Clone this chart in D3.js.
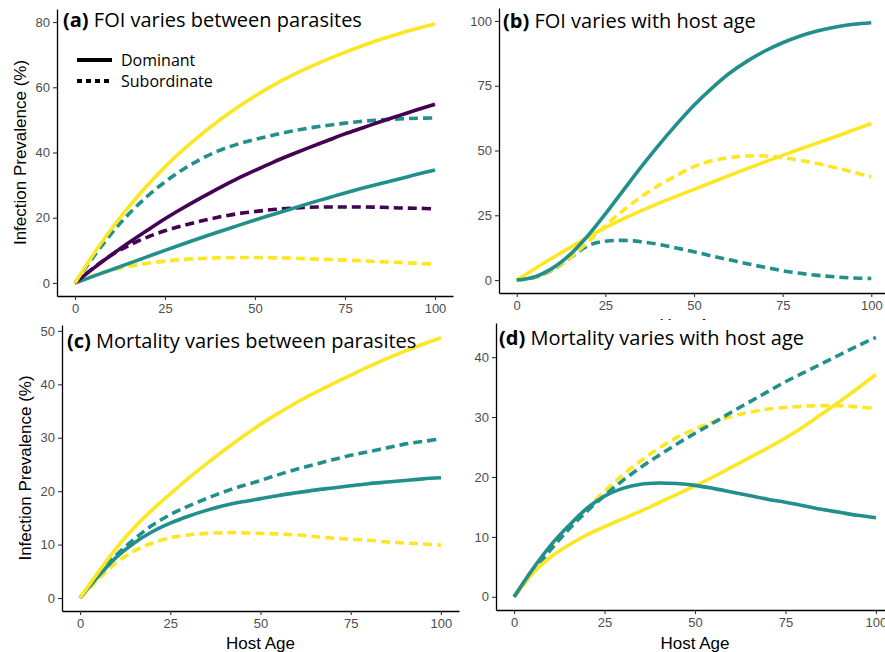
<!DOCTYPE html>
<html>
<head>
<meta charset="utf-8">
<script src="https://cdn.jsdelivr.net/npm/d3@7"></script>
<style>
  body { margin: 0; background: #fff; }
  svg { display: block; }
</style>
</head>
<body>
<svg id="chart" width="885" height="652"></svg>
<script>
var ages = [0,5,10,15,20,25,30,35,40,45,50,55,60,65,70,75,80,85,90,95,100];
var xTicks = [0,25,50,75,100];

// (a) FOI varies between parasites
var aYellowDom = [0,8.6,16.4,23.4,29.8,35.6,40.8,45.5,49.8,53.7,57.3,60.6,63.5,66.1,68.5,70.7,72.8,74.7,76.4,78,79.4];
var aYellowSub = [0,2.2,3.9,5.1,6,6.7,7.2,7.5,7.7,7.8,7.8,7.7,7.6,7.4,7.2,7,6.8,6.5,6.3,6,5.8];
var aPurpleDom = [0,4.4,8.5,12.4,16.1,19.7,23,26.1,29.1,31.9,34.5,37,39.3,41.5,43.6,45.7,47.6,49.5,51.3,53.1,54.8];
var aPurpleSub = [0,4.5,8.5,11.5,14,16,17.6,19,20.2,21.2,21.9,22.5,22.9,23.2,23.3,23.3,23.3,23.2,23,22.9,22.7];
var aTealDom = [0,2,4,6,8,10,11.95,13.85,15.7,17.5,19.3,21,22.7,24.4,26,27.6,29.1,30.5,31.9,33.3,34.6];
var aTealSub = [0,7.8,15,21.2,26.5,31,34.8,38,40.6,42.5,44,45.3,46.5,47.5,48.3,49,49.6,50,50.3,50.5,50.6];
var aYTicks = [0,20,40,60,80];

// (b) FOI varies with host age
var bTealDom = [0,1.2,4.5,9.8,17,25.5,34.5,43.5,52,60,67.5,74,79.8,84.5,88.4,91.6,94.2,96.2,97.7,98.7,99.3];
var bTealSub = [0,1,3.8,8.5,13.2,15,15.3,14.8,13.8,12.4,10.9,9.3,7.8,6.3,4.9,3.6,2.6,1.8,1.2,0.8,0.6];
var bYellowDom = [0,4.3,8.5,12.5,16.5,20.2,23.6,26.7,29.6,32.3,35,37.7,40.4,43,45.6,48.1,50.6,53,55.4,57.9,60.4];
var bYellowSub = [0,1,4,8.5,14.5,21,26.8,32,36.5,40.3,43.8,46,47.3,47.9,47.9,47.2,46.2,44.9,43.3,41.6,39.8];
var bYTicks = [0,25,50,75,100];

// (c) Mortality varies between parasites
var cYellowDom = [0,4.8,9.3,13.2,16.5,19.5,22.4,25.1,27.7,30.2,32.5,34.6,36.6,38.4,40.1,41.7,43.3,44.8,46.2,47.5,48.7];
var cYellowSub = [0,3.5,6.6,8.8,10.3,11.3,11.8,12.1,12.2,12.2,12.1,12,11.8,11.5,11.2,11,10.8,10.5,10.3,10.1,9.9];
var cTealDom = [0,4,7.6,10.3,12.4,14,15.3,16.4,17.3,18,18.6,19.2,19.7,20.2,20.6,21,21.4,21.7,22,22.3,22.5];
var cTealSub = [0,4.2,8,11,13.6,15.6,17.2,18.6,19.9,21,22,23.1,24.1,25,25.9,26.7,27.4,28.1,28.8,29.3,29.8];
var cYTicks = [0,10,20,30,40,50];

// (d) Mortality varies with host age
var dTealDom = [0,4.5,8.5,11.8,14.7,16.8,18.1,18.8,19,18.9,18.6,18.1,17.5,16.9,16.3,15.8,15.2,14.6,14.1,13.6,13.2];
var dTealSub = [0,4,7.8,11.2,14.2,16.9,19.4,21.6,23.6,25.5,27.3,29,30.8,32.5,34.2,35.9,37.4,38.9,40.4,41.9,43.3];
var dYellowDom = [0,3.8,6.6,8.6,10.3,11.7,13,14.3,15.7,17.1,18.5,20,21.6,23.2,24.8,26.5,28.4,30.5,32.6,34.8,37.1];
var dYellowSub = [0,4,7.8,11.3,14.6,17.6,20.3,22.7,24.8,26.6,28,29.2,30.1,30.8,31.3,31.6,31.8,31.9,31.9,31.7,31.4];
var dYTicks = [0,10,20,30,40];

var YELLOW = "#FDE725", TEAL = "#21908C", PURPLE = "#440154";

var panels = [
  { tag: "(a)", title: "FOI varies between parasites", x0: 57, x1: 453, y0: 296, y1: 9,
    yDom: [-4, 84], yTicks: aYTicks, titleX: 63, titleY: 27, yLabel: true, yLabX: 20, xLabel: false,
    series: [
      { v: aTealSub, c: TEAL, dash: true }, { v: aPurpleSub, c: PURPLE, dash: true }, { v: aYellowSub, c: YELLOW, dash: true },
      { v: aTealDom, c: TEAL }, { v: aPurpleDom, c: PURPLE }, { v: aYellowDom, c: YELLOW }
    ] },
  { tag: "(b)", title: "FOI varies with host age", x0: 499, x1: 889, y0: 293, y1: 8,
    yDom: [-5, 105], yTicks: bYTicks, titleX: 503, titleY: 28, yLabel: false, xLabel: true, xLabY: 331,
    clipLab: true,
    series: [
      { v: bTealSub, c: TEAL, dash: true }, { v: bYellowSub, c: YELLOW, dash: true },
      { v: bYellowDom, c: YELLOW }, { v: bTealDom, c: TEAL }
    ] },
  { tag: "(c)", title: "Mortality varies between parasites", x0: 62, x1: 459, y0: 611, y1: 325,
    yDom: [-2.43, 51.1], yTicks: cYTicks, titleX: 67, titleY: 348, yLabel: true, yLabX: 25, xLabel: true, xLabY: 649,
    series: [
      { v: cTealSub, c: TEAL, dash: true }, { v: cYellowSub, c: YELLOW, dash: true },
      { v: cTealDom, c: TEAL }, { v: cYellowDom, c: YELLOW }
    ] },
  { tag: "(d)", title: "Mortality varies with host age", x0: 496, x1: 894, y0: 610, y1: 323,
    yDom: [-2.2, 45.7], yTicks: dYTicks, titleX: 499, titleY: 345, yLabel: false, xLabel: true, xLabY: 649,
    series: [
      { v: dYellowSub, c: YELLOW, dash: true }, { v: dTealSub, c: TEAL, dash: true },
      { v: dYellowDom, c: YELLOW }, { v: dTealDom, c: TEAL }
    ] }
];

var svg = d3.select("#chart");

// the (b) x title is mostly hidden under panel (d) in the source figure
svg.append("defs").append("clipPath").attr("id", "clipB")
  .append("rect").attr("x", 460).attr("y", 300).attr("width", 425).attr("height", 20);

panels.forEach(function(p) {
  var g = svg.append("g");
  var x = d3.scaleLinear().domain([-5, 105]).range([p.x0, p.x1]);
  var y = d3.scaleLinear().domain(p.yDom).range([p.y0, p.y1]);

  var line = d3.line()
      .x(function(d, i) { return x(ages[i]); })
      .y(function(d) { return y(d); })
      .curve(d3.curveCatmullRom.alpha(0.5));

  p.series.forEach(function(s) {
    g.append("path")
      .datum(s.v)
      .attr("d", line)
      .attr("fill", "none")
      .attr("stroke", s.c)
      .attr("stroke-width", 3.6)
      .attr("stroke-dasharray", s.dash ? "9,5" : null);
  });

  var xAxis = g.append("g")
      .attr("transform", "translate(0," + p.y0 + ")")
      .call(d3.axisBottom(x).tickValues(xTicks).tickSize(4).tickSizeOuter(0).tickPadding(4));
  var yAxis = g.append("g")
      .attr("transform", "translate(" + p.x0 + ",0)")
      .call(d3.axisLeft(y).tickValues(p.yTicks).tickSize(4).tickSizeOuter(0).tickPadding(3));

  [xAxis, yAxis].forEach(function(ax) {
    ax.select(".domain").attr("stroke", "#000").attr("stroke-width", 1.3);
    ax.selectAll(".tick line").attr("stroke", "#333").attr("stroke-width", 1.1);
    ax.selectAll(".tick text").attr("fill", "#4D4D4D")
      .style("font-family", "Liberation Sans, Arial, sans-serif").style("font-size", "13px");
  });

  var t = g.append("text")
      .attr("x", p.titleX).attr("y", p.titleY)
      .style("font-family", "Open Sans, sans-serif").style("font-size", "20px").attr("fill", "#000");
  t.append("tspan").attr("font-weight", "bold").text(p.tag);
  t.append("tspan").text(" " + p.title);

  if (p.yLabel) {
    var cy = (p.y0 + p.y1) / 2;
    g.append("text")
      .attr("transform", "translate(" + (p.yLabX + 6) + "," + cy + ") rotate(-90)")
      .attr("text-anchor", "middle")
      .style("font-family", "Liberation Sans, Arial, sans-serif").style("font-size", "17px")
      .text("Infection Prevalence (%)");
  }
  if (p.xLabel) {
    g.append("text")
      .attr("x", x(50)).attr("y", p.xLabY)
      .attr("text-anchor", "middle")
      .attr("clip-path", p.clipLab ? "url(#clipB)" : null)
      .style("font-family", "Liberation Sans, Arial, sans-serif").style("font-size", "17px")
      .text("Host Age");
  }
});

// legend in panel (a)
var legend = svg.append("g");
var legendItems = [
  { label: "Dominant", dash: null, y: 60 },
  { label: "Subordinate", dash: "5,4", y: 81 }
];
legendItems.forEach(function(it) {
  legend.append("line")
    .attr("x1", 77).attr("x2", 112).attr("y1", it.y).attr("y2", it.y)
    .attr("stroke", "#000").attr("stroke-width", 4)
    .attr("stroke-dasharray", it.dash);
  legend.append("text")
    .attr("x", 121).attr("y", it.y + 6)
    .style("font-family", "Open Sans, sans-serif").style("font-size", "16px")
    .text(it.label);
});
</script>
</body>
</html>
